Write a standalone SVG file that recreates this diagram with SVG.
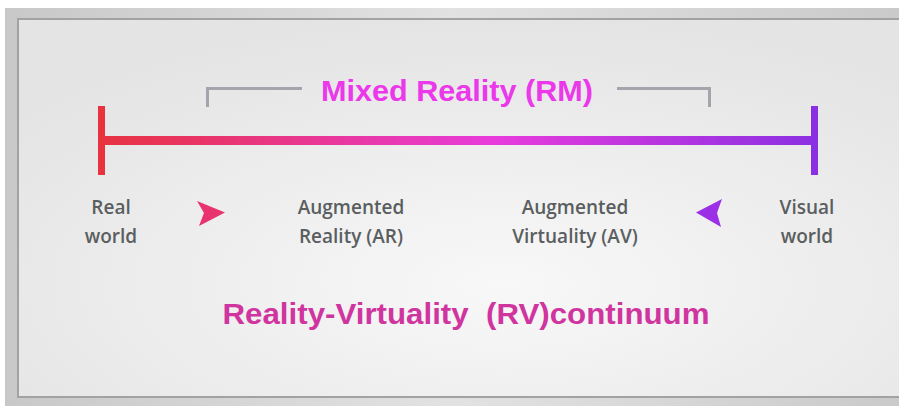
<svg xmlns="http://www.w3.org/2000/svg" width="899" height="406" viewBox="0 0 899 406">
<defs>
<linearGradient id="outer" x1="0" y1="0" x2="1" y2="0">
<stop offset="0" stop-color="#c8c8c8"/>
<stop offset="0.5" stop-color="#e2e2e2"/>
<stop offset="1" stop-color="#cacaca"/>
</linearGradient>
<radialGradient id="inner" cx="0.55" cy="0.7" r="0.7">
<stop offset="0" stop-color="#f8f8f8"/>
<stop offset="1" stop-color="#e4e4e4"/>
</radialGradient>
<linearGradient id="bar" x1="98" y1="0" x2="818" y2="0" gradientUnits="userSpaceOnUse">
<stop offset="0" stop-color="#e8333f"/>
<stop offset="0.55" stop-color="#e83bdc"/>
<stop offset="1" stop-color="#8a30e2"/>
</linearGradient>
<style>
.lbl{font-family:"Open Sans","Liberation Sans",sans-serif;font-size:19px;font-weight:600;fill:#5a5e60;text-anchor:middle}
.brk{fill:none;stroke:#a5a4ad;stroke-width:3}
</style>
</defs>
<rect x="0" y="0" width="899" height="406" fill="#ffffff"/>
<rect x="5" y="8" width="894" height="398" fill="url(#outer)"/>
<rect x="17" y="18" width="882" height="380" fill="url(#inner)"/>
<path d="M18,397 V19 H899" fill="none" stroke="#a2a2a2" stroke-width="2"/>
<path d="M17,397 H899" fill="none" stroke="#a2a2a2" stroke-width="2"/>

<g id="connectors">
<rect x="102" y="136" width="712" height="9" fill="url(#bar)"/>
<rect x="98" y="106" width="7" height="69" fill="#e8333f"/>
<rect x="811" y="106" width="7" height="69" fill="#8a30e2"/>
<path class="brk" d="M207.5,107 V88.5 H302"/>
<path class="brk" d="M617,88.5 H709.5 V107"/>
<path d="M197,201 L225,212.5 L199,226 L204,213 Z" fill="#e8336e"/>
<path d="M696,212.5 L722,199 L717,213 L721,227 Z" fill="#9b30e6"/>
</g>

<g id="mixed-reality">
<text x="457" y="101" font-family="Liberation Sans, Arial, sans-serif" font-size="30" font-weight="bold" fill="#ea38ea" text-anchor="middle" textLength="272" lengthAdjust="spacingAndGlyphs">Mixed Reality (RM)</text>
</g>
<g id="real-world">
<text class="lbl" x="111" y="214">Real</text>
<text class="lbl" x="111" y="243">world</text>
</g>
<g id="ar">
<text class="lbl" x="351" y="214">Augmented</text>
<text class="lbl" x="351" y="243">Reality (AR)</text>
</g>
<g id="av">
<text class="lbl" x="575" y="214">Augmented</text>
<text class="lbl" x="575" y="243">Virtuality (AV)</text>
</g>
<g id="visual-world">
<text class="lbl" x="807" y="214">Visual</text>
<text class="lbl" x="807" y="243">world</text>
</g>
<g id="title">
<text x="466" y="324" xml:space="preserve" font-family="Liberation Sans, Arial, sans-serif" font-size="29" font-weight="bold" fill="#d0359f" text-anchor="middle" textLength="487" lengthAdjust="spacingAndGlyphs">Reality-Virtuality  (RV)continuum</text>
</g>
</svg>
